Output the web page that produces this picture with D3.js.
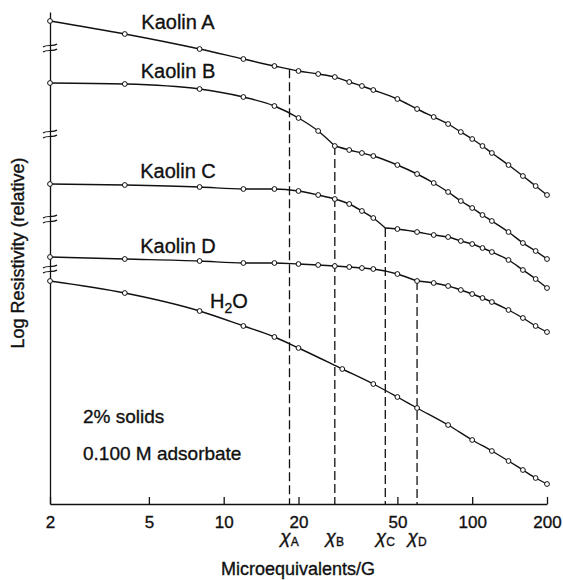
<!DOCTYPE html>
<html>
<head>
<meta charset="utf-8">
<script src="https://cdn.jsdelivr.net/npm/d3@7"></script>
<style>
body { margin: 0; background: #fff; }
text { font-family: "Liberation Sans", Arial, sans-serif; fill: #111; stroke: #111; stroke-width: 0.35px; }
</style>
</head>
<body>
<script>
// values, y in relative log-resistivity units
var xKaolin = [2,4,8,12,16,20,24,28,32,36,40,50,60,70,80,90,100,110,120,140,160,180,200];
var kaolinA = [48.3,47.0,45.5,44.5,43.8,43.3,43.0,42.7,42.2,41.8,41.4,40.5,39.5,38.7,38.0,37.2,36.5,35.8,35.1,33.9,32.8,31.8,30.9];
var kaolinB = [42.1,42.0,41.5,40.7,39.8,38.6,37.3,35.8,35.4,35.1,34.8,33.9,33.0,32.1,31.2,30.3,29.6,28.9,28.3,27.2,26.1,25.3,24.5];
var kaolinC = [32.0,31.9,31.7,31.5,31.5,31.3,30.9,30.5,30.0,29.3,28.6,27.5,27.2,26.9,26.7,26.3,26.0,25.6,25.2,24.4,23.4,22.5,21.6];
var kaolinD = [24.7,24.5,24.3,24.1,24.1,24.0,23.9,23.8,23.7,23.6,23.5,23.0,22.3,22.1,21.8,21.4,21.0,20.6,20.2,19.4,18.6,17.8,17.2];
var xWater = [2,4,8,12,16,20,30,40,50,60,80,100,120,140,160,180,200];
var water = [22.3,21.1,19.3,17.8,16.7,15.6,13.5,12.0,10.7,9.6,7.9,6.4,5.3,4.3,3.4,2.6,2.0];
var chiX = [18.4,28,44.7,60];
var chiNames = ["A","B","C","D"];
var cornerC = 27.6;
var xTicks = [2,5,10,20,50,100,200];
var axisBreaks = [45.6,37.0,28.5,23.5];

var series = [
    {xs: xKaolin, ys: kaolinA, corner: null},
    {xs: xKaolin, ys: kaolinB, corner: [chiX[1], kaolinB[7]]},
    {xs: xKaolin, ys: kaolinC, corner: [chiX[2], cornerC]},
    {xs: xKaolin, ys: kaolinD, corner: [chiX[3], kaolinD[12]]},
    {xs: xWater, ys: water, corner: null}
];

var svg = d3.select("body").append("svg")
    .attr("width", 563)
    .attr("height", 580);

var x = d3.scaleLog().domain([2,200]).range([50,547]);
var y = d3.scaleLinear().domain([0,49.2]).range([504,12]);

var line = d3.line()
    .x(function(d){ return x(d[0]); })
    .y(function(d){ return y(d[1]); })
    .curve(d3.curveMonotoneX);

function points(s){
    return s.xs.map(function(v,i){ return [v, s.ys[i]]; });
}

function segments(s){
    var pts = points(s);
    if(!s.corner) return [pts];
    var cx = s.corner[0];
    var left = pts.filter(function(p){ return p[0] < cx; });
    var right = pts.filter(function(p){ return p[0] > cx; });
    return [left.concat([s.corner]), [s.corner].concat(right)];
}

function valueAt(s, cx){
    if(s.corner && s.corner[0] == cx) return s.corner[1];
    for(var i=0;i<s.xs.length-1;i++){
        if(s.xs[i] <= cx && cx <= s.xs[i+1]){
            var t = (Math.log(cx)-Math.log(s.xs[i]))/(Math.log(s.xs[i+1])-Math.log(s.xs[i]));
            return s.ys[i] + t*(s.ys[i+1]-s.ys[i]);
        }
    }
}

// dashed drop lines at the break points
svg.append("g").selectAll("line")
    .data(chiX)
    .enter()
    .append("line")
    .attr("x1", function(d){ return x(d); })
    .attr("x2", function(d){ return x(d); })
    .attr("y1", function(d,i){ return y(valueAt(series[i], d)); })
    .attr("y2", y(0))
    .attr("stroke", "#111")
    .attr("stroke-width", 1.3)
    .attr("stroke-dasharray", "9,4");

// axes
var xAxis = d3.axisBottom(x)
    .tickValues(xTicks)
    .tickFormat(d3.format("d"))
    .tickSizeInner(-7)
    .tickSizeOuter(0)
    .tickPadding(12);

var xAxisGroup = svg.append("g")
    .attr("transform", "translate(0," + y(0) + ")")
    .call(xAxis);
xAxisGroup.selectAll("text").attr("font-size", "17px").attr("font-family", null);
xAxisGroup.selectAll("line,path").attr("stroke", "#111").attr("stroke-width", 1.3);

var yAxisGroup = svg.append("g")
    .attr("transform", "translate(" + x(2) + ",0)")
    .call(d3.axisLeft(y).tickValues([]).tickSizeOuter(0));
yAxisGroup.select("path").attr("stroke", "#111").attr("stroke-width", 1.3);

// axis break marks
var br = svg.append("g").selectAll("g")
    .data(axisBreaks)
    .enter()
    .append("g")
    .attr("transform", function(d){ return "translate(" + x(2) + "," + y(d) + ")"; });
br.append("path").attr("d", "M-7,-1 C-3,-4 3,-1 7,-4");
br.append("path").attr("d", "M-7,4 C-3,1 3,4 7,1");
br.selectAll("path").attr("fill", "none").attr("stroke", "#111").attr("stroke-width", 1.2);

// curves
series.forEach(function(s){
    segments(s).forEach(function(seg){
        svg.append("path")
            .datum(seg)
            .attr("d", line)
            .attr("fill", "none")
            .attr("stroke", "#111")
            .attr("stroke-width", 1.4);
    });
    svg.append("g").selectAll("circle")
        .data(points(s))
        .enter()
        .append("circle")
        .attr("cx", function(d){ return x(d[0]); })
        .attr("cy", function(d){ return y(d[1]); })
        .attr("r", 2.4)
        .attr("fill", "#fff")
        .attr("stroke", "#111")
        .attr("stroke-width", 1);
});

// curve labels
var names = ["Kaolin A","Kaolin B","Kaolin C","Kaolin D"];
var nameY = [29, 78, 178, 253];
names.forEach(function(n,i){
    svg.append("text")
        .attr("x", 178)
        .attr("y", nameY[i])
        .attr("text-anchor", "middle")
        .attr("font-size", "20px")
        .text(n);
});
var h2o = svg.append("text")
    .attr("x", 210)
    .attr("y", 308)
    .attr("font-size", "20px");
h2o.append("tspan").text("H");
h2o.append("tspan").attr("font-size", "14px").attr("dy", 5).text("2");
h2o.append("tspan").attr("dy", -5).text("O");

svg.append("text").attr("x", 83).attr("y", 423).attr("font-size", "19px").text("2% solids");
svg.append("text").attr("x", 83).attr("y", 460).attr("font-size", "19px").text("0.100 M adsorbate");

// chi labels under the axis
chiX.forEach(function(c,i){
    var t = svg.append("text")
        .attr("x", x(c))
        .attr("y", 543)
        .attr("text-anchor", "middle")
        .attr("font-size", "19px");
    t.append("tspan").attr("font-style", "italic").text("\u03c7");
    t.append("tspan").attr("font-size", "12px").attr("dy", 3).text(chiNames[i]);
});

svg.append("text")
    .attr("x", 298)
    .attr("y", 575)
    .attr("text-anchor", "middle")
    .attr("font-size", "18px")
    .text("Microequivalents/G");

svg.append("text")
    .attr("transform", "translate(24,253)rotate(-90)")
    .attr("text-anchor", "middle")
    .attr("font-size", "18px")
    .text("Log Resistivity (relative)");
</script>
</body>
</html>
